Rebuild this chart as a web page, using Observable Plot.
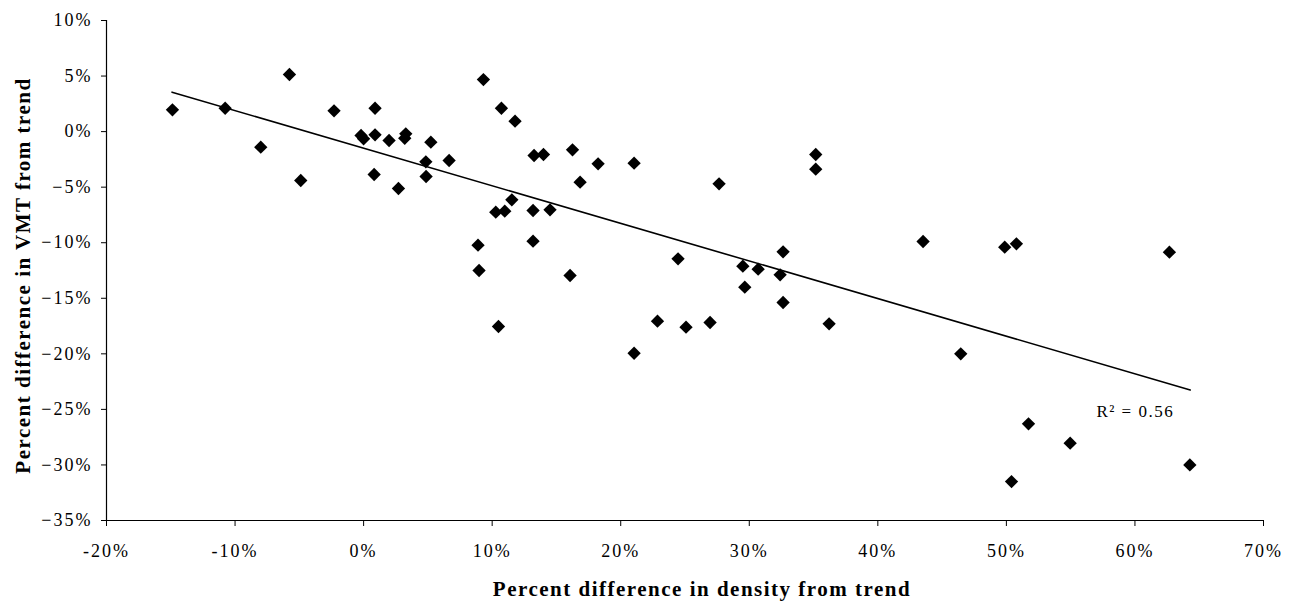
<!DOCTYPE html>
<html>
<head>
<meta charset="utf-8">
<script src="https://cdn.jsdelivr.net/npm/d3@7"></script>
<script src="https://cdn.jsdelivr.net/npm/@observablehq/plot@0.6"></script>
<style>
  html, body { margin: 0; padding: 0; background: #fff; }
  #chart svg { display: block; letter-spacing: 1.5px; }
  #chart svg g[aria-label="x-axis tick label"] text,
  #chart svg g[aria-label="y-axis tick label"] text {
    font-size: 18px !important;
    letter-spacing: 2px;
  }
</style>
</head>
<body>
<div id="chart"></div>
<script>
// Percent difference in density from trend (x) and in VMT from trend (y)
const densityDiff = [
  -14.87, -10.77, -8.0, -5.77, -4.89, -2.3, -0.2, 0.0, 0.89, 0.89,
  0.82, 1.98, 2.71, 3.28, 3.2, 5.23, 4.84, 4.86, 6.65, 9.32,
  10.72, 11.78, 13.26, 13.99, 16.25, 18.24, 21.04, 16.84, 27.65, 35.17,
  35.17, 11.53, 10.28, 10.98, 13.18, 14.5, 8.9, 13.18, 8.98, 16.06,
  24.46, 29.5, 30.69, 32.4, 32.63, 29.65, 32.63, 10.49, 22.86, 25.08,
  26.95, 36.21, 21.04, 43.52, 49.87, 50.78, 62.68, 46.45, 51.72, 54.96,
  50.4, 64.27
];
const vmtDiff = [
  1.96, 2.1, -1.4, 5.14, -4.4, 1.87, -0.35, -0.65, 2.1, -0.29,
  -3.86, -0.8, -5.12, -0.2, -0.6, -0.95, -2.72, -4.04, -2.6, 4.68,
  2.1, 0.94, -2.15, -2.06, -1.64, -2.9, -2.84, -4.55, -4.7, -2.06,
  -3.38, -6.14, -7.25, -7.16, -7.1, -7.04, -10.22, -9.86, -12.5, -12.95,
  -11.45, -12.11, -12.38, -12.89, -10.82, -14.0, -15.38, -17.54, -17.06, -17.6,
  -17.18, -17.3, -19.95, -9.89, -10.4, -10.1, -10.85, -20.0, -26.3, -28.04,
  -31.5, -30.0
];
// Trend line end points
const trendX = [-14.9, 64.3];
const trendY = [3.55, -23.25];
// Annotation
const rSquaredLabel = [{x: 57.0, y: -25.2, text: "R\u00B2 = 0.56"}];
// Ticks
const xTicks = [-20, -10, 0, 10, 20, 30, 40, 50, 60, 70];
const yTicks = [-35, -30, -25, -20, -15, -10, -5, 0, 5, 10];
const xTitle = "Percent difference in density from trend";
const yTitle = "Percent difference in VMT from trend";

const points = densityDiff.map((x, i) => ({x, y: vmtDiff[i]}));
const trend = trendX.map((x, i) => ({x, y: trendY[i]}));

const serif = "'Liberation Serif', 'Times New Roman', serif";

const chart = Plot.plot({
  width: 1293,
  height: 605,
  marginLeft: 106,
  marginRight: 30,
  marginTop: 20,
  marginBottom: 85,
  style: {fontFamily: serif, fontSize: "18px", color: "#000", background: "#fff"},
  x: {domain: [-20, 70]},
  y: {domain: [-35, 10]},
  marks: [
    Plot.axisX(xTicks, {
      tickFormat: d => d + "%",
      tickSize: 6,
      tickPadding: 18,
      fontSize: 18,
      label: null,
      stroke: "#000",
      strokeWidth: 1
    }),
    Plot.axisY(yTicks, {
      tickFormat: d => (d < 0 ? "\u2212" + Math.abs(d) : d) + "%",
      tickSize: 5,
      tickPadding: 9,
      fontSize: 18,
      label: null,
      stroke: "#000",
      strokeWidth: 1
    }),
    Plot.ruleX([-20], {stroke: "#000", strokeWidth: 1.2}),
    Plot.ruleY([-35], {stroke: "#000", strokeWidth: 1.2}),
    Plot.line(trend, {x: "x", y: "y", stroke: "#000", strokeWidth: 1.6}),
    Plot.dot(points, {x: "x", y: "y", symbol: "diamond2", r: 6, fill: "#000", stroke: "none"}),
    Plot.text(rSquaredLabel, {x: "x", y: "y", text: "text", textAnchor: "start", fontSize: 17, fill: "#000"}),
    Plot.text([xTitle], {
      frameAnchor: "bottom", dx: 17, dy: 75,
      textAnchor: "middle",
      fontSize: 21, fontWeight: "bold", fill: "#000"
    }),
    Plot.text([yTitle], {
      frameAnchor: "left", dx: -83, dy: 5, rotate: -90,
      textAnchor: "middle",
      fontSize: 21, fontWeight: "bold", fill: "#000"
    })
  ]
});
document.getElementById("chart").appendChild(chart);
</script>
</body>
</html>
